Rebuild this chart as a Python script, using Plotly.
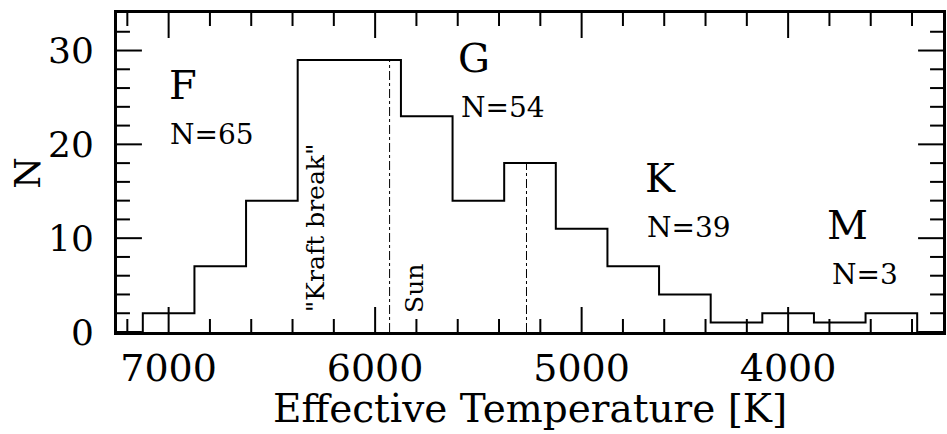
import plotly.graph_objects as go

# Histogram of effective temperatures
bin_edges = [7125, 6875, 6625, 6375, 6125, 5875, 5625, 5375, 5125, 4875, 4625, 4375, 4125, 3875, 3625, 3375]
counts = [2, 7, 14, 29, 29, 23, 14, 18, 11, 7, 4, 1, 2, 1, 2]

# dash-dot marker lines
sun_x = [5930, 5930]
sun_y = [0, 29]
mark2_x = [5267, 5267]
mark2_y = [0, 18]

# spectral class labels
class_names = ["F", "G", "K", "M"]
class_x = [6931, 5523, 4620, 3713]
class_y = [26.3, 29.2, 16.4, 11.4]
class_n = ["N=65", "N=54", "N=39", "N=3"]
n_x = [6792, 5383, 4480, 3629]
n_y = [21.0, 23.9, 11.1, 6.1]

x_ticks = [7000, 6000, 5000, 4000]
y_ticks = [0, 10, 20, 30]
x_minor = [7200, 6800, 6600, 6400, 6200, 5800, 5600, 5400, 5200, 4800, 4600, 4400, 4200, 3800, 3600, 3400]
y_minor = [2, 4, 6, 8, 12, 14, 16, 18, 22, 24, 26, 28, 32]
x_range = [7250, 3250]
y_range = [0, 34]
x_title = "Effective Temperature [K]"
y_title = "N"

FONT = "DejaVu Serif"
PLOT_W = 947 - 117 - 1
PLOT_H = 434 - 13 - 102
MAJOR_LEN = 25
MINOR_LEN = 13

xs = [bin_edges[0]] + bin_edges[:-1] + [bin_edges[-1]]
ys = [0] + counts + [0]

fig = go.Figure()
fig.add_trace(go.Scatter(x=xs, y=ys, mode="lines", line=dict(shape="hv", color="black", width=2)))
fig.add_trace(go.Scatter(x=sun_x, y=sun_y, mode="lines", line=dict(color="black", width=1, dash="dashdot")))
fig.add_trace(go.Scatter(x=mark2_x, y=mark2_y, mode="lines", line=dict(color="black", width=1, dash="dashdot")))

for name, x, y in zip(class_names, class_x, class_y):
    fig.add_annotation(x=x, y=y, text=name, showarrow=False, font=dict(family=FONT, size=40, color="black"))
for name, x, y in zip(class_n, n_x, n_y):
    fig.add_annotation(x=x, y=y, text=name, showarrow=False, font=dict(family=FONT, size=28, color="black"))

fig.add_annotation(x=6285, y=11.1, text='"Kraft break"', textangle=-90, showarrow=False,
                   font=dict(family=FONT, size=25, color="black"))
fig.add_annotation(x=5807, y=4.7, text="Sun", textangle=-90, showarrow=False,
                   font=dict(family=FONT, size=25, color="black"))

# axis titles
fig.add_annotation(xref="paper", yref="paper", x=0.5, y=-(433 - 332) / PLOT_H, xanchor="center", yanchor="bottom",
                   text=x_title, showarrow=False, font=dict(family=FONT, size=39, color="black"))
fig.add_annotation(xref="paper", yref="paper", x=-0.1086, y=0.5, xanchor="center", yanchor="middle",
                   text=y_title, textangle=-90, showarrow=False, font=dict(family=FONT, size=36, color="black"))

# tick marks on all four sides, placed through the axis scales
tick_line = dict(color="black", width=2)
for vals, ln in ((x_ticks, MAJOR_LEN), (x_minor, MINOR_LEN)):
    for v in vals:
        fig.add_shape(type="line", xref="x", yref="paper", x0=v, x1=v, y0=0, y1=ln / PLOT_H, line=tick_line)
        fig.add_shape(type="line", xref="x", yref="paper", x0=v, x1=v, y0=1, y1=1 - ln / PLOT_H, line=tick_line)
for vals, ln in ((y_ticks, MAJOR_LEN), (y_minor, MINOR_LEN)):
    for v in vals:
        fig.add_shape(type="line", xref="paper", yref="y", x0=0, x1=ln / PLOT_W, y0=v, y1=v, line=tick_line)
        fig.add_shape(type="line", xref="paper", yref="y", x0=1, x1=1 - ln / PLOT_W, y0=v, y1=v, line=tick_line)

fig.update_layout(
    xaxis=dict(range=x_range, tickmode="array", tickvals=x_ticks, ticktext=[str(v) for v in x_ticks],
               ticks="", showline=True, linecolor="black", linewidth=3, mirror=True,
               showgrid=False, zeroline=False,
               tickfont=dict(family=FONT, size=38, color="black")),
    yaxis=dict(range=y_range, tickmode="array", tickvals=y_ticks, ticktext=[str(v) for v in y_ticks],
               ticks="", showline=True, linecolor="black", linewidth=3, mirror=True,
               showgrid=False, zeroline=False, ticklabelstandoff=13,
               tickfont=dict(family=FONT, size=36, color="black")),
    width=947, height=434, margin=dict(l=117, r=1, t=13, b=102),
    paper_bgcolor="white", plot_bgcolor="white", showlegend=False)

fig.write_html("out.html")
